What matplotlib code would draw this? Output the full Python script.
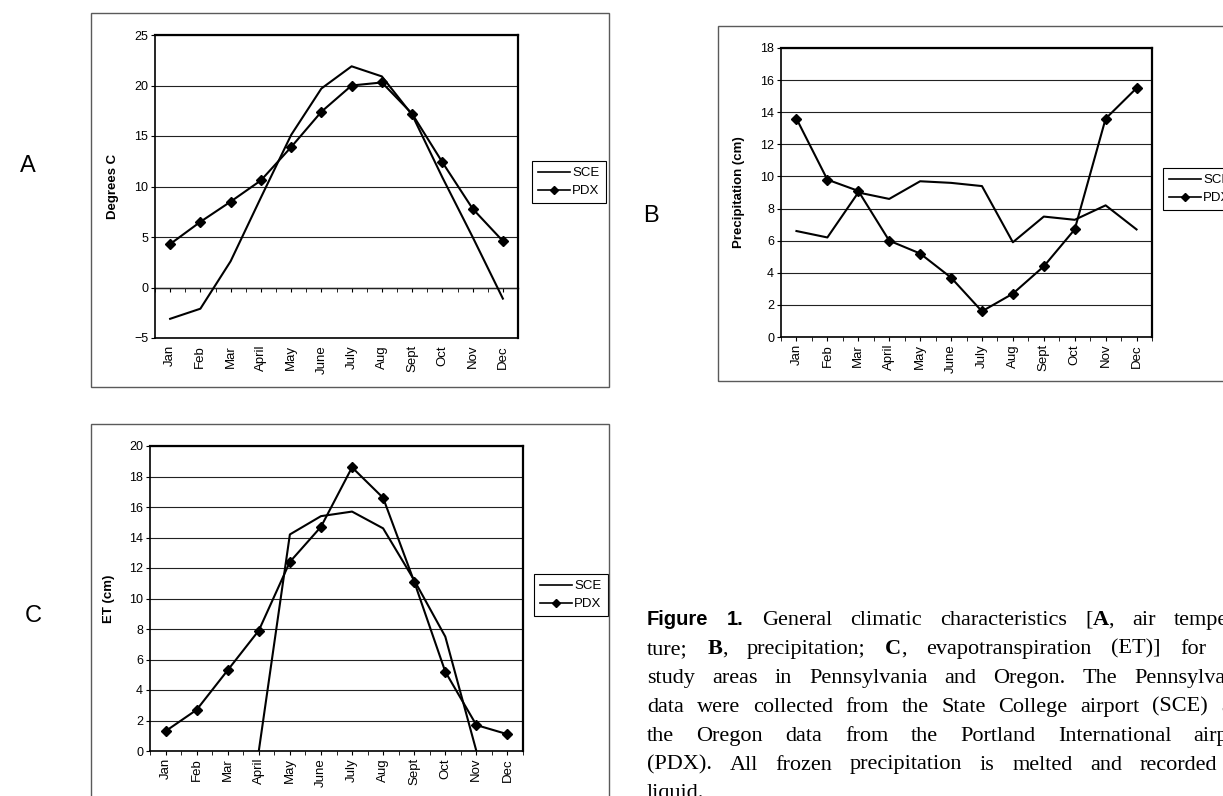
import re
import numpy as np
import matplotlib
matplotlib.use("Agg")
import matplotlib.pyplot as plt
from matplotlib.patches import Rectangle
from matplotlib.lines import Line2D
from matplotlib.ticker import FixedLocator

# donnees
months = ["Jan", "Feb", "Mar", "April", "May", "June", "July", "Aug", "Sept", "Oct", "Nov", "Dec"]

temp_sce = [-3.1, -2.1, 2.6, 8.9, 15.1, 19.7, 21.9, 20.9, 17.1, 10.9, 5.0, -1.1]
temp_pdx = [4.3, 6.5, 8.5, 10.6, 13.9, 17.4, 20.0, 20.3, 17.2, 12.4, 7.8, 4.6]

precip_sce = [6.6, 6.2, 9.0, 8.6, 9.7, 9.6, 9.4, 5.9, 7.5, 7.3, 8.2, 6.7]
precip_pdx = [13.6, 9.8, 9.1, 6.0, 5.2, 3.7, 1.6, 2.7, 4.4, 6.7, 13.6, 15.5]

et_sce = [np.nan, np.nan, np.nan, 0.0, 14.2, 15.4, 15.7, 14.6, 11.2, 7.5, 0.0, np.nan]
et_pdx = [1.3, 2.7, 5.3, 7.9, 12.4, 14.7, 18.6, 16.6, 11.1, 5.2, 1.7, 1.1]

series_names = ["SCE", "PDX"]

caption_lines = [
    "#Figure# #1.# General climatic characteristics [*A*, air tempera-",
    "ture; *B*, precipitation; *C*, evapotranspiration (ET)] for the",
    "study areas in Pennsylvania and Oregon. The Pennsylvania",
    "data were collected from the State College airport (SCE) and",
    "the Oregon data from the Portland International airport",
    "(PDX). All frozen precipitation is melted and recorded as",
    "liquid.",
]

plt.rcParams['font.family'] = ['Liberation Sans', 'DejaVu Sans']

W, H = 1223, 796
fig = plt.figure(figsize=(W / 100, H / 100), dpi=100)


def rect(l, t, r, b):
    return [l / W, 1 - b / H, (r - l) / W, (b - t) / H]


# cadres gris autour de chaque panneau
for (l, t, r, b) in [(91, 13, 609, 387), (718, 26, 1240, 381), (91, 424, 609, 820)]:
    fig.patches.append(Rectangle((l / W, 1 - b / H), (r - l) / W, (b - t) / H,
                                 transform=fig.transFigure, fill=False,
                                 edgecolor='#5a5a5a', lw=1.0))


def panel(box, sce, pdx, ylim, ystep, ylabel, label_x, legend_xy, zero_axis=False):
    ax = fig.add_axes(rect(*box))
    x = np.arange(len(months))
    ax.plot(x, sce, color='black', lw=1.5, zorder=3)
    ax.plot(x, pdx, color='black', lw=1.5, marker='D', ms=5.5, zorder=3)
    ax.set_xlim(-0.5, 11.5)
    ax.set_ylim(*ylim)
    ax.set_yticks(np.arange(ylim[0], ylim[1] + 0.1, ystep))
    ax.yaxis.grid(True, color='#222222', lw=0.8)
    ax.set_axisbelow(True)
    ax.set_xticks(x)
    ax.set_xticklabels(months, rotation=90, fontsize=9.5)
    ax.tick_params(axis='y', direction='out', length=3, labelsize=9, pad=2)
    for s in ['left', 'bottom']:
        ax.spines[s].set_linewidth(1.2)
    for s in ['top', 'right']:
        ax.spines[s].set_linewidth(1.6)
    if zero_axis:
        ax.tick_params(axis='x', length=0, pad=5)
        sec = ax.secondary_xaxis(-ylim[0] / (ylim[1] - ylim[0]))
        sec.set_xticks(x)
        sec.set_xticklabels([])
        sec.xaxis.set_minor_locator(FixedLocator(np.arange(-0.5, 12, 1)))
        sec.tick_params(which='both', direction='out', length=3)
        sec.spines['bottom'].set_linewidth(1.0)
    else:
        ax.xaxis.set_minor_locator(FixedLocator(np.arange(-0.5, 12, 1)))
        ax.tick_params(axis='x', which='both', direction='out', length=3, pad=2)
    ax.set_ylabel(ylabel, fontsize=9.5, fontweight='bold')
    ax.yaxis.set_label_coords(label_x, 0.5)
    handles = [Line2D([], [], color='black', lw=1.2),
               Line2D([], [], color='black', lw=1.2, marker='D', ms=4.5)]
    leg = ax.legend(handles, series_names, loc='upper left',
                    bbox_to_anchor=(legend_xy[0] / W, 1 - legend_xy[1] / H),
                    bbox_transform=fig.transFigure, borderaxespad=0,
                    fontsize=9.5, handlelength=2.4, handletextpad=0.2,
                    borderpad=0.45, labelspacing=0.45, fancybox=False,
                    framealpha=1, edgecolor='black')
    leg.get_frame().set_linewidth(0.8)
    return ax


panel((155, 35, 518, 338), temp_sce, temp_pdx, (-5, 25), 5, "Degrees C", -0.10, (532, 161), zero_axis=True)
panel((781, 48, 1152, 337), precip_sce, precip_pdx, (0, 18), 2, "Precipitation (cm)", -0.097, (1163, 168))
panel((150, 446, 523, 751), et_sce, et_pdx, (0, 20), 2, "ET (cm)", -0.094, (534, 574))

# lettres des panneaux
for letter, lx, ly in [("A", 28, 166), ("B", 651, 216), ("C", 33, 616)]:
    fig.text(lx / W, 1 - ly / H, letter, fontsize=17, ha='center', va='center')

# legende de la figure, justifiee comme dans la revue
styles = {
    'n': dict(family='Liberation Serif', fontsize=16),
    'b': dict(family='Liberation Serif', fontsize=16, fontweight='bold'),
    'h': dict(family='Liberation Sans', fontsize=14.5, fontweight='bold'),
}
renderer = fig.canvas.get_renderer()


def pieces(word):
    out = []
    for part in re.split(r'(\*[^*]+\*|#[^#]+#)', word):
        if not part:
            continue
        if part.startswith('*'):
            out.append((part[1:-1], 'b'))
        elif part.startswith('#'):
            out.append((part[1:-1], 'h'))
        else:
            out.append((part, 'n'))
    return out


def width(txt, st):
    t = fig.text(0, 0, txt, **styles[st])
    w = t.get_window_extent(renderer).width
    t.remove()
    return w


cap_left, cap_right = 647, 1253
space_w = width("a b", 'n') - width("ab", 'n')
for i, line in enumerate(caption_lines):
    baseline = 625 + 28.9 * i
    words = [pieces(w) for w in line.split(' ')]
    wlen = [sum(width(t, s) for t, s in w) for w in words]
    if i < len(caption_lines) - 1:
        gap = (cap_right - cap_left - sum(wlen)) / (len(words) - 1)
    else:
        gap = space_w
    xpos = cap_left
    for w, wl in zip(words, wlen):
        xx = xpos
        for t, s in w:
            fig.text(xx / W, 1 - baseline / H, t, va='baseline', ha='left', **styles[s])
            xx += width(t, s)
        xpos += wl + gap

fig.savefig("out.png", dpi=100)
